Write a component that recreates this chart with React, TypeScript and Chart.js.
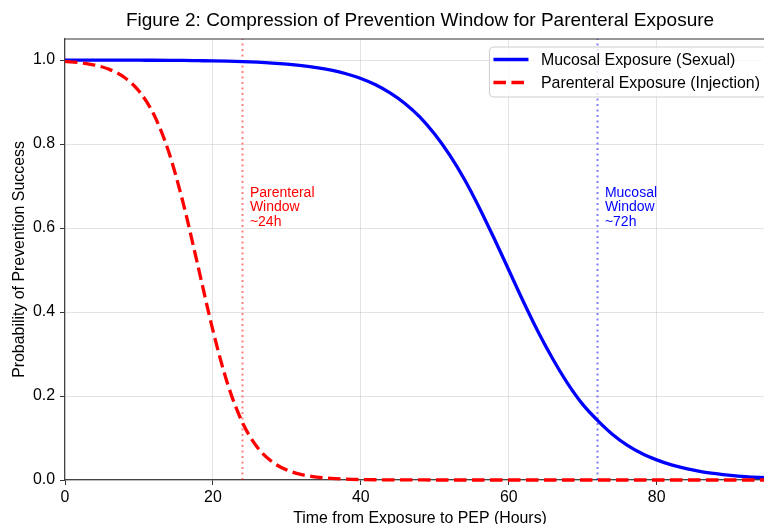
import React, { useEffect, useRef } from 'react';
import { Chart, registerables } from 'chart.js';

Chart.register(...registerables);

// Hours after exposure (x values)
const hours = [
  0, 2, 4, 6, 8, 10, 12, 14, 16, 18, 20, 22, 24, 26, 28, 30, 32, 34, 36, 38, 40,
  42, 44, 46, 48, 50, 52, 54, 56, 58, 60, 62, 64, 66, 68, 70, 72, 74, 76, 78, 80,
  82, 84, 86, 88, 90, 92, 94, 96,
];

// Mucosal exposure (sexual) – probability of prevention success
const mucosal = [
  0.9999, 0.9999, 0.9998, 0.9998, 0.9997, 0.9995, 0.9994, 0.9992, 0.9989, 0.9984,
  0.9979, 0.9971, 0.9961, 0.9947, 0.9928, 0.9902, 0.9867, 0.982, 0.9757, 0.9672,
  0.9559, 0.941, 0.921, 0.896, 0.864, 0.823, 0.774, 0.716, 0.649, 0.576, 0.5, 0.424,
  0.352, 0.287, 0.229, 0.18, 0.142, 0.109, 0.083, 0.063, 0.048, 0.036, 0.027, 0.02,
  0.015, 0.011, 0.008, 0.006, 0.0045,
];

// Parenteral exposure (injection) – probability of prevention success
const parenteral = [
  0.9965, 0.9935, 0.988, 0.9777, 0.959, 0.926, 0.8706, 0.7826, 0.658, 0.508, 0.356,
  0.228, 0.1366, 0.078, 0.0434, 0.0237, 0.0128, 0.0069, 0.0037, 0.002, 0.0011, 0.0006,
  0.0003, 0.0002, 0.0001, 0, 0, 0, 0, 0, 0, 0, 0, 0, 0, 0, 0, 0, 0, 0, 0, 0, 0, 0, 0,
  0, 0, 0, 0,
];

const seriesNames = ['Mucosal Exposure (Sexual)', 'Parenteral Exposure (Injection)'];
const seriesColors = ['#0000ff', '#ff0000'];
const windowHours = [24, 72];
const windowColors = ['rgba(255,0,0,0.5)', 'rgba(0,0,255,0.5)'];
const windowLabelX = [25, 73];
const windowLabelY = 0.7;
const windowLabels = [
  ['Parenteral', 'Window', '~24h'],
  ['Mucosal', 'Window', '~72h'],
];
const windowTextColors = ['#ff0000', '#0000ff'];

const xTicks = [0, 20, 40, 60, 80];
const yTicks = [0, 0.2, 0.4, 0.6, 0.8, 1.0];
const xMin = 0;
const xMax = 96;
const yMin = 0;
const yMax = 1.05;

const title = 'Figure 2: Compression of Prevention Window for Parenteral Exposure';
const xTitle = 'Time from Exposure to PEP (Hours)';
const yTitle = 'Probability of Prevention Success';

const FONT = '"Liberation Sans", Arial, Helvetica, sans-serif';

const framePlugin = {
  id: 'frame',
  afterDatasetsDraw(chart: any) {
    const { ctx, chartArea } = chart;
    ctx.save();
    ctx.strokeStyle = '#333';
    ctx.lineWidth = 1.2;
    ctx.beginPath();
    ctx.moveTo(chartArea.left, chartArea.top);
    ctx.lineTo(chartArea.right, chartArea.top);
    ctx.lineTo(chartArea.right, chartArea.bottom);
    ctx.stroke();
    ctx.restore();
  },
};

const windowTextPlugin = {
  id: 'windowText',
  afterDatasetsDraw(chart: any) {
    const { ctx } = chart;
    const xs = chart.scales.x;
    const ys = chart.scales.y;
    ctx.save();
    ctx.font = `14px ${FONT}`;
    ctx.textAlign = 'left';
    ctx.textBaseline = 'top';
    windowLabels.forEach((lines, i) => {
      const px = xs.getPixelForValue(windowLabelX[i]);
      const py = ys.getPixelForValue(windowLabelY);
      ctx.fillStyle = windowTextColors[i];
      lines.forEach((t, j) => ctx.fillText(t, px, py + j * 14.5));
    });
    ctx.restore();
  },
};

const legendPlugin = {
  id: 'boxLegend',
  afterDraw(chart: any) {
    const { ctx, chartArea } = chart;
    ctx.save();
    ctx.font = `15.9px ${FONT}`;
    const textW = Math.max(...seriesNames.map((s) => ctx.measureText(s).width));
    const pad = 4;
    const handle = 35;
    const gap = 12.5;
    const w = pad + handle + gap + textW + 7;
    const h = 50;
    const right = chartArea.right - 8;
    const top = chartArea.top + 8;
    const left = right - w;
    const r = 4;
    ctx.beginPath();
    ctx.moveTo(left + r, top);
    ctx.lineTo(right - r, top);
    ctx.arcTo(right, top, right, top + r, r);
    ctx.lineTo(right, top + h - r);
    ctx.arcTo(right, top + h, right - r, top + h, r);
    ctx.lineTo(left + r, top + h);
    ctx.arcTo(left, top + h, left, top + h - r, r);
    ctx.lineTo(left, top + r);
    ctx.arcTo(left, top, left + r, top, r);
    ctx.closePath();
    ctx.fillStyle = 'rgba(255,255,255,0.8)';
    ctx.fill();
    ctx.strokeStyle = '#cccccc';
    ctx.lineWidth = 1;
    ctx.stroke();
    seriesNames.forEach((name, i) => {
      const cy = top + 12.5 + i * 23;
      ctx.strokeStyle = seriesColors[i];
      ctx.lineWidth = 3.3;
      ctx.setLineDash(i === 1 ? [12.5, 5.5] : []);
      ctx.beginPath();
      ctx.moveTo(left + pad, cy);
      ctx.lineTo(left + pad + handle, cy);
      ctx.stroke();
      ctx.setLineDash([]);
      ctx.fillStyle = '#000';
      ctx.textAlign = 'left';
      ctx.textBaseline = 'middle';
      ctx.fillText(name, left + pad + handle + gap, cy + 1);
    });
    ctx.restore();
  },
};

export default function App() {
  const ref = useRef<HTMLCanvasElement>(null);
  useEffect(() => {
    document.body.style.margin = '0';
    const canvas = ref.current!;
    const chart = new Chart(canvas, {
      type: 'line',
      data: {
        datasets: [
          {
            label: seriesNames[0],
            data: hours.map((h, i) => ({ x: h, y: mucosal[i] })),
            borderColor: seriesColors[0],
            borderWidth: 3.3,
            pointRadius: 0,
            cubicInterpolationMode: 'monotone',
            clip: false as any,
            order: 2,
          },
          {
            label: seriesNames[1],
            data: hours.map((h, i) => ({ x: h, y: parenteral[i] })),
            borderColor: seriesColors[1],
            borderWidth: 3.3,
            borderDash: [12.5, 5.5],
            pointRadius: 0,
            cubicInterpolationMode: 'monotone',
            clip: false as any,
            order: 1,
          },
          ...windowHours.map((wh, i) => ({
            label: 'window' + wh,
            data: [
              { x: wh, y: yMin },
              { x: wh, y: yMax },
            ],
            borderColor: windowColors[i],
            borderWidth: 2,
            borderDash: [2, 3.5],
            pointRadius: 0,
            order: 3,
          })),
        ] as any,
      },
      options: {
        responsive: false,
        animation: false,
        devicePixelRatio: 1,
        layout: { padding: { left: 0, right: 25, top: 0, bottom: 0 } },
        plugins: {
          legend: { display: false },
          tooltip: { enabled: false },
          title: {
            display: true,
            text: title,
            fullSize: false,
            color: '#000',
            font: { family: FONT, size: 19, weight: 'normal' },
            padding: { top: 9, bottom: 7.2 },
          },
        },
        scales: {
          x: {
            type: 'linear',
            min: xMin,
            max: xMax,
            afterBuildTicks: (s: any) => {
              s.ticks = xTicks.map((v) => ({ value: v }));
            },
            afterFit: (s: any) => {
              s.height = 60;
            },
            grid: {
              color: 'rgba(176,176,176,0.35)',
              lineWidth: 1,
              drawTicks: true,
              tickLength: 5,
              tickColor: '#333',
              tickWidth: 1,
            },
            border: { display: true, color: '#444', width: 1.2 },
            ticks: {
              color: '#000',
              padding: 3,
              maxRotation: 0,
              font: { family: FONT, size: 15.9 },
              callback: (v: any) => String(v),
            },
            title: {
              display: true,
              text: xTitle,
              color: '#000',
              font: { family: FONT, size: 15.9 },
              padding: { top: 0, bottom: 12 },
            },
          },
          y: {
            type: 'linear',
            min: yMin,
            max: yMax,
            afterBuildTicks: (s: any) => {
              s.ticks = yTicks.map((v) => ({ value: v }));
            },
            afterFit: (s: any) => {
              s.width = 65;
            },
            grid: {
              color: 'rgba(176,176,176,0.35)',
              lineWidth: 1,
              drawTicks: true,
              tickLength: 5,
              tickColor: '#333',
              tickWidth: 1,
            },
            border: { display: true, color: '#444', width: 1.2 },
            ticks: {
              color: '#000',
              padding: 5,
              font: { family: FONT, size: 15.9 },
              callback: (v: any) => Number(v).toFixed(1),
            },
            title: {
              display: true,
              text: yTitle,
              color: '#000',
              font: { family: FONT, size: 15.9 },
              padding: { top: 10.5, bottom: 0 },
            },
          },
        },
      } as any,
      plugins: [framePlugin, windowTextPlugin, legendPlugin],
    });
    return () => chart.destroy();
  }, []);
  return (
    <div
      style={{
        position: 'absolute',
        left: 0,
        top: 0,
        width: 764,
        height: 524,
        overflow: 'hidden',
        background: '#fff',
      }}
    >
      <canvas ref={ref} width={800} height={540} style={{ width: 800, height: 540, display: 'block' }} />
    </div>
  );
}
